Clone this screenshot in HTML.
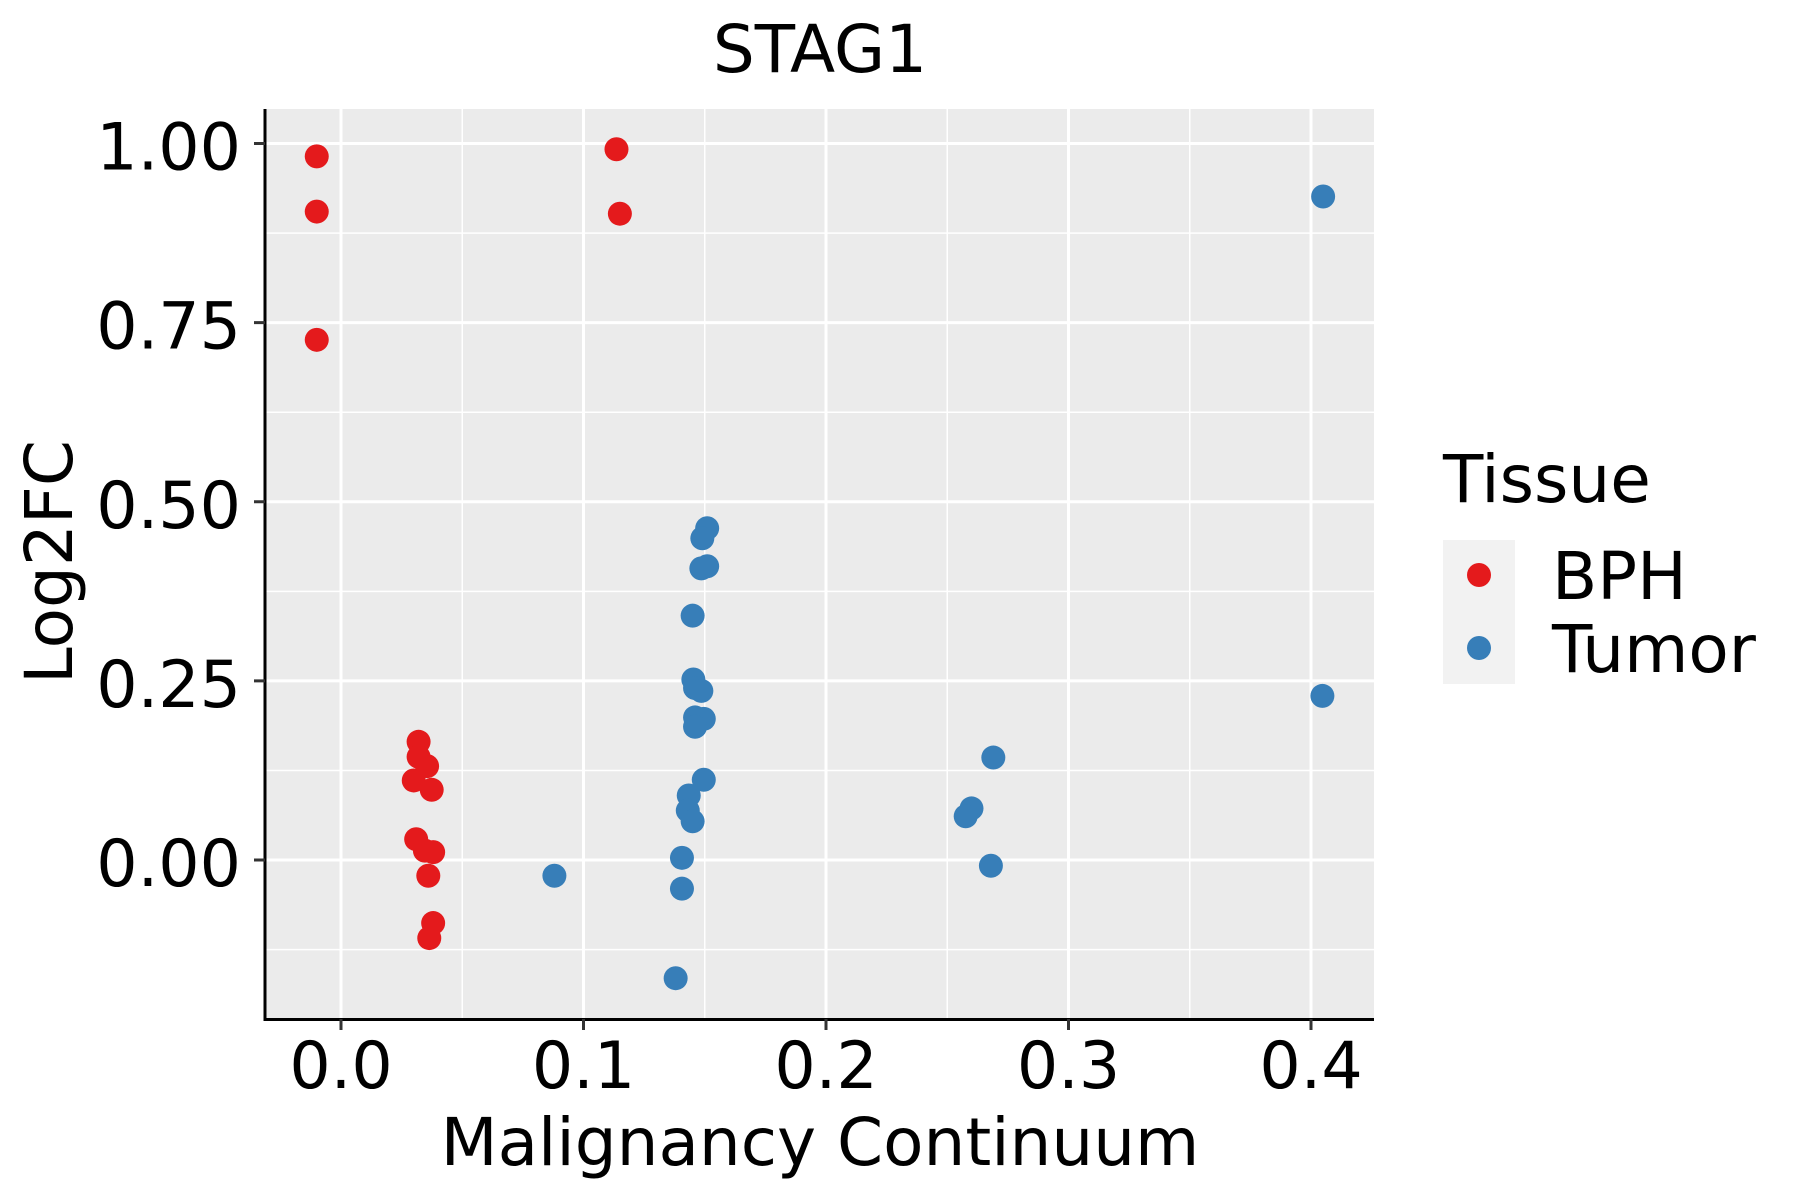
<!DOCTYPE html>
<html><head><meta charset="utf-8"><style>
html,body{margin:0;padding:0;background:#fff;}
svg{display:block;font-family:"DejaVu Sans","Liberation Sans",sans-serif;}
</style></head><body>
<svg id="chart" width="1800" height="1200" viewBox="0 0 1800 1200">
<rect x="0" y="0" width="1800" height="1200" fill="#fff"/>
<rect x="265" y="109" width="1109" height="910" fill="#EBEBEB"/>
<g id="grid"></g>
<g id="points"></g>
<line x1="265" y1="109" x2="265" y2="1021" stroke="#000" stroke-width="3"/>
<line x1="264" y1="1019.5" x2="1374" y2="1019.5" stroke="#000" stroke-width="3"/>
<g id="ticks"></g>
<text x="820" y="72" font-size="66" text-anchor="middle">STAG1</text>
<text x="820" y="1165" font-size="66" text-anchor="middle">Malignancy Continuum</text>
<text transform="translate(72,562) rotate(-90)" font-size="66" text-anchor="middle">Log2FC</text>
<g>
<text x="1443" y="502" font-size="66">Tissue</text>
<rect x="1443" y="540" width="72" height="144" fill="#F2F2F2"/>
<circle cx="1479" cy="575" r="12" fill="#E41A1C"/>
<circle cx="1479" cy="648" r="12" fill="#377EB8"/>
<text x="1552" y="599" font-size="66">BPH</text>
<text x="1552" y="672" font-size="66">Tumor</text>
</g>
</svg>
<script>
const xTicks = [0.0, 0.1, 0.2, 0.3, 0.4];
const xTickLabels = ["0.0", "0.1", "0.2", "0.3", "0.4"];
const yTicks = [0.0, 0.25, 0.5, 0.75, 1.0];
const yTickLabels = ["0.00", "0.25", "0.50", "0.75", "1.00"];
const xMinor = [-0.05, 0.05, 0.15, 0.25, 0.35];
const yMinor = [-0.125, 0.125, 0.375, 0.625, 0.875];
const bphX = [-0.010,-0.010,-0.010,0.1136,0.115,0.032,0.032,0.0355,0.030,0.0374,0.031,0.0346,0.038,0.036,0.038,0.0364];
const bphY = [0.982,0.905,0.726,0.992,0.902,0.165,0.144,0.131,0.111,0.098,0.029,0.013,0.011,-0.022,-0.088,-0.109];
const tumorX = [0.405,0.4047,0.088,0.151,0.149,0.151,0.1486,0.145,0.1453,0.146,0.1486,0.146,0.1496,0.146,0.1496,0.1434,0.143,0.145,0.1406,0.1406,0.138,0.269,0.260,0.2576,0.268];
const tumorY = [0.926,0.229,-0.022,0.463,0.449,0.410,0.407,0.341,0.252,0.240,0.236,0.199,0.197,0.186,0.112,0.090,0.069,0.054,0.003,-0.040,-0.165,0.143,0.072,0.061,-0.008];

const NS = "http://www.w3.org/2000/svg";
const X0 = 341, XS = 2425, Y0 = 860, YS = 716.5;
const PL = 265, PR = 1374, PT = 109, PB = 1019;
function sx(v){ return X0 + v * XS; }
function sy(v){ return Y0 - v * YS; }
function mk(tag, attrs){ const e = document.createElementNS(NS, tag); for (const k in attrs) e.setAttribute(k, attrs[k]); return e; }

const grid = document.getElementById('grid');
xMinor.forEach(v => {
  const x = sx(v); if (x < PL || x > PR) return;
  const l = mk('line', {x1:x, x2:x, y1:PT, y2:PB, stroke:'#fff', 'stroke-width':1.5});
  
  
  grid.appendChild(l);
});
yMinor.forEach(v => {
  const y = sy(v); if (y < PT || y > PB) return;
  const l = mk('line', {x1:PL, x2:PR, y1:y, y2:y, stroke:'#fff', 'stroke-width':1.5});
  
  
  grid.appendChild(l);
});
const ticks = document.getElementById('ticks');
xTicks.forEach((v, i) => {
  const x = sx(v);
  const l = mk('line', {x1:x, x2:x, y1:PT, y2:PB, stroke:'#fff', 'stroke-width':3});
  
  
  grid.appendChild(l);
  const t = mk('line', {x1:x, x2:x, y1:PB, y2:PB + 11, stroke:'#333', 'stroke-width':3});
  
  
  ticks.appendChild(t);
  const tx = mk('text', {x:x, y:1088, 'font-size':65, 'text-anchor':'middle'});
  tx.textContent = xTickLabels[i];
  
  
  ticks.appendChild(tx);
});
yTicks.forEach((v, i) => {
  const y = sy(v);
  const l = mk('line', {x1:PL, x2:PR, y1:y, y2:y, stroke:'#fff', 'stroke-width':3});
  
  
  grid.appendChild(l);
  const t = mk('line', {x1:PL - 11, x2:PL, y1:y, y2:y, stroke:'#333', 'stroke-width':3});
  
  
  ticks.appendChild(t);
  const tx = mk('text', {x:241, y:y + 26, 'font-size':65, 'text-anchor':'end'});
  tx.textContent = yTickLabels[i];
  
  
  ticks.appendChild(tx);
});
const pts = document.getElementById('points');
bphX.forEach((v, i) => {
  const c = mk('circle', {cx:sx(v), cy:sy(bphY[i]), r:12, fill:'#E41A1C'});
  
  
  pts.appendChild(c);
});
tumorX.forEach((v, i) => {
  const c = mk('circle', {cx:sx(v), cy:sy(tumorY[i]), r:12, fill:'#377EB8'});
  
  
  pts.appendChild(c);
});
</script>
</body></html>
